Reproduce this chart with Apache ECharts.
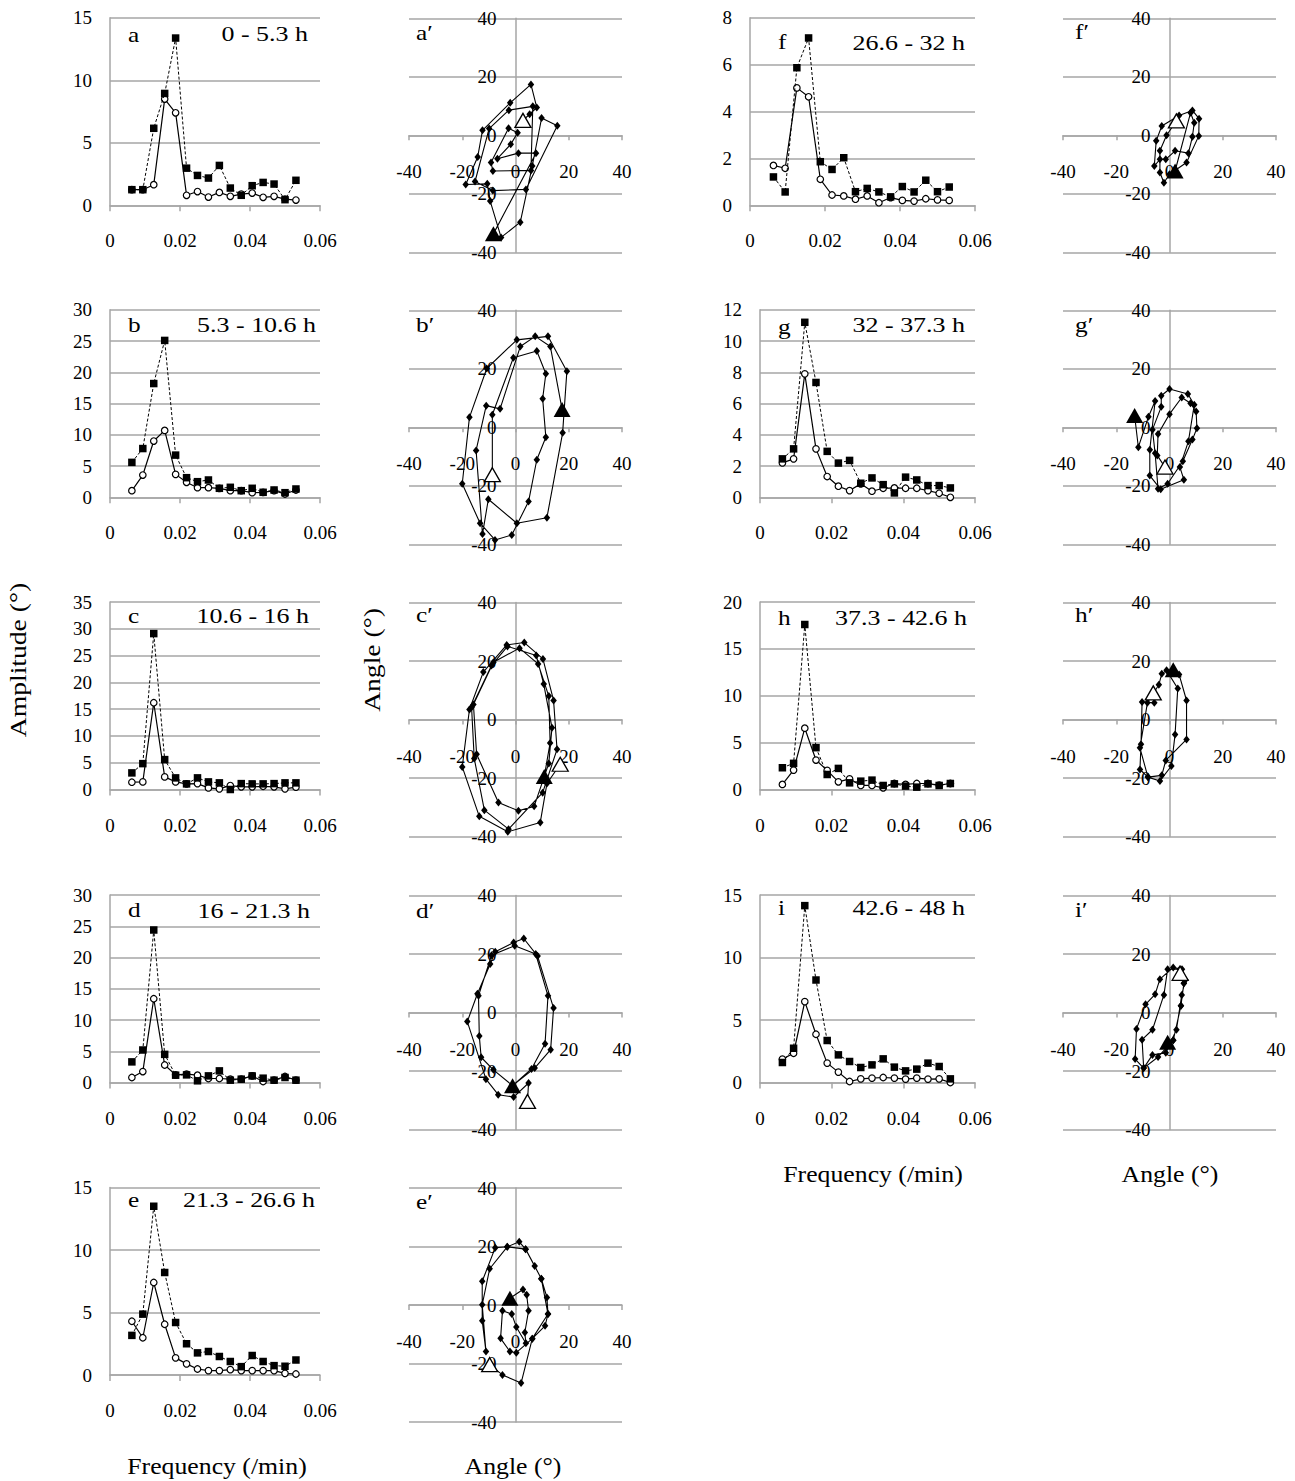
<!DOCTYPE html>
<html>
<head>
<meta charset="utf-8">
<script src="https://cdn.jsdelivr.net/npm/echarts@6/dist/echarts.min.js"></script>
<style>
  html, body { margin: 0; padding: 0; background: #fff; }
  #chart { width: 1295px; height: 1481px; }
</style>
</head>
<body>
<div id="chart"></div>
<script>
// frequencies (/min) shared by all spectra
var freq = [0.00625, 0.009375, 0.0125, 0.015625, 0.01875, 0.021875, 0.025, 0.028125,
            0.03125, 0.034375, 0.0375, 0.040625, 0.04375, 0.046875, 0.05, 0.053125];

// amplitude spectra: sq = filled squares (dashed), ci = open circles (solid)
var sqA = [1.25, 1.25, 6.16, 8.95, 13.38, 2.97, 2.39, 2.18, 3.19, 1.38, 0.8, 1.57, 1.83, 1.7, 0.45, 2.0];
var ciA = [1.25, 1.25, 1.65, 8.5, 7.4, 0.8, 1.1, 0.66, 1.03, 0.72, 0.9, 0.98, 0.64, 0.72, 0.5, 0.42];
var sqB = [5.59, 7.8, 18.2, 25.1, 6.75, 3.14, 2.5, 2.77, 1.44, 1.6, 1.06, 1.44, 0.8, 1.17, 0.74, 1.33];
var ciB = [1.06, 3.56, 9.0, 10.7, 3.67, 2.4, 1.54, 1.54, 1.44, 1.06, 1.06, 0.74, 0.8, 1.06, 0.53, 1.17];
var sqC = [3.1, 4.83, 29.1, 5.58, 2.17, 1.05, 2.17, 1.42, 1.24, 0, 1.1, 1.05, 1.05, 1.1, 1.24, 1.24];
var ciC = [1.36, 1.42, 16.2, 2.35, 1.42, 1.05, 1.1, 0.3, 0.12, 0.74, 0.5, 0.5, 0.6, 0.5, 0.12, 0.43];
var sqD = [3.3, 5.2, 24.4, 4.5, 1.17, 1.22, 0.27, 1.06, 1.86, 0.37, 0.53, 1.06, 0.69, 0.37, 0.8, 0.37];
var ciD = [0.8, 1.75, 13.4, 2.8, 1.22, 1.33, 1.17, 0.64, 0.64, 0.53, 0.53, 1.06, 0.16, 0.37, 0.96, 0.37];
var sqE = [3.17, 4.87, 13.5, 8.2, 4.2, 2.5, 1.77, 1.88, 1.48, 1.08, 0.67, 1.56, 1.08, 0.75, 0.7, 1.2];
var ciE = [4.3, 2.98, 7.4, 4.06, 1.37, 0.89, 0.48, 0.35, 0.35, 0.43, 0.35, 0.35, 0.35, 0.35, 0.13, 0.08];
var sqF = [1.21, 0.57, 5.87, 7.14, 1.86, 1.53, 2.03, 0.58, 0.72, 0.57, 0.36, 0.8, 0.57, 1.07, 0.58, 0.78];
var ciF = [1.7, 1.58, 5.01, 4.63, 1.11, 0.44, 0.4, 0.26, 0.4, 0.11, 0.33, 0.21, 0.18, 0.28, 0.23, 0.21];
var sqG = [2.46, 3.1, 11.2, 7.35, 2.94, 2.19, 2.36, 0.9, 1.24, 0.81, 0.28, 1.29, 1.11, 0.75, 0.75, 0.6];
var ciG = [2.2, 2.46, 7.9, 3.1, 1.33, 0.71, 0.43, 0.86, 0.39, 0.58, 0.6, 0.58, 0.58, 0.43, 0.26, 0.0];
var sqH = [2.32, 2.79, 17.6, 4.46, 1.6, 2.25, 0.71, 0.89, 1.0, 0.43, 0.6, 0.36, 0.25, 0.6, 0.43, 0.64];
var ciH = [0.54, 2.07, 6.54, 3.14, 2.04, 0.82, 1.14, 0.43, 0.43, 0.18, 0.64, 0.54, 0.64, 0.64, 0.46, 0.64];
var sqI = [1.6, 2.74, 14.15, 8.2, 3.36, 2.21, 1.68, 1.2, 1.41, 1.89, 1.23, 0.93, 1.07, 1.55, 1.28, 0.29];
var ciI = [1.87, 2.34, 6.47, 3.86, 1.55, 0.83, 0.08, 0.29, 0.35, 0.4, 0.35, 0.27, 0.35, 0.27, 0.29, 0.0];

// angle trajectories [x, y] in degrees; open triangle = start, filled triangle = end
var openA = [2.8, 5.1], fillA = [-8.3, -33.7];
var pathA = [[5.3, 7.2], [8, 9.5], [5.8, 17.4], [-2, 11.1], [-12.4, 1.7], [-14.2, -7.4], [-18.7, -16.8],
  [-10.6, -16.6], [-9.5, -22.5], [-5.4, -34.9], [1.8, -29.7], [6.3, -10.5], [9.8, 5.9], [15.7, 3.3],
  [3.9, -18.5], [-8.5, -18.9], [-15.2, -15.8], [-9.9, 2.3], [-2.5, 8.6], [6.5, 9.9], [5.8, -12],
  [-8.5, -12.2], [-9.2, -9.3], [-2.6, 2.4], [0.8, 0.9], [-1.8, -3.1], [-6.8, -8], [1.1, -6.1], [7.7, -6.1]];

var openB = [-8.7, -16.2], fillB = [17.5, 6.1];
var pathB = [[-8.7, 4.3], [-0.8, 23.8], [8, 26.1], [11.4, 18.3], [10.2, 9.8], [11.4, -3.4], [8, -11.1],
  [4.9, -25.4], [-1.4, -36.8], [-7.7, -38.5], [-13.3, -32.8], [-20, -19.3], [-17.3, 3.4], [-10.8, 20.1],
  [0.5, 29.9], [12.2, 31.1], [19.3, 19.2], [17.7, -1.9], [11.8, -30.9], [0.5, -32.8], [-10.2, -24.6],
  [-12.4, -36.5], [-14.8, -7.9], [-11, 7.4], [-5.8, 6.3], [1.8, 27.6], [7.4, 31.1], [13.1, 27.6]];

var openC = [16.8, -15.3], fillC = [10.8, -19.5];
var pathC = [[11.8, -21.9], [9.3, -35.2], [-2.9, -38.4], [-13.6, -33.1], [-20, -16.2], [-17.3, 3.4],
  [-12.1, 16.2], [-3.3, 25.5], [3.3, 26.3], [10.3, 20.7], [14.3, 6.5], [15.6, -10.2], [10.2, -25],
  [-2.6, -37.5], [-11.7, -31], [-15.5, -13.3], [-16.5, 4.2], [-9, 18.5], [-3, 25], [7.8, 21.9],
  [10.6, 12.1], [13.7, -2.8], [12.5, -15], [7, -29.7], [1.1, -31.2], [-6.4, -28.4], [-14.6, -11.9],
  [-15.8, 5.1], [-8.3, 19.6], [1.5, 24.4], [8.5, 19], [12.5, 8], [13, -8]];

var openD = [4.5, -30.4], fillD = [-1.1, -25];
var pathD = [[4.9, -24.1], [-0.7, -28.9], [-6.5, -28.1], [-11.1, -22.8], [-18.1, -3.1], [-14.3, 6.4],
  [-9.5, 16.6], [-7.6, 20.8], [-0.7, 23.9], [3.1, 25.3], [8.3, 19.3], [14.3, 1.5], [13.2, -12.7],
  [7.2, -19], [-1.1, -25], [-8.3, -19.6], [-12.9, -15.3], [-13.6, -8], [-13.9, 5.7], [-9, 19.6],
  [-0.3, 22.8], [7.6, 20], [12.2, 5.7], [11.1, -10.7], [6, -19.3]];

var openE = [-9.7, -20.4], fillE = [-2.1, 2.3];
var pathE = [[-4.9, -23.9], [2.1, -26.7], [6.3, -11.5], [11.1, -7.1], [12.2, -3.1], [11.8, 2.6], [9.7, 9],
  [7.2, 13.3], [3.8, 19.1], [1.4, 21.6], [-3.1, 19.9], [-9.7, 12.4], [-12.5, 0.1], [-11.1, -15.9],
  [-12.5, -5.4], [-12.5, 8.1], [-7.6, 19.6], [-3.1, 19.9], [3.8, 19.1], [9.7, 9], [12.2, -3.1],
  [6.3, -11.5], [0.3, -16.3], [-2.1, -15.9], [-5.6, -11.4], [-4.9, -2], [-1.4, -3.1], [0.3, -7.5],
  [3.9, -13.1], [3.5, -9.4], [4.9, -2], [4.2, 3.5], [2.8, 5.3]];

var openF = [2.6, 4.9], fillF = [2.1, -12.2];
var pathF = [[-1.1, 0], [-3.6, -5.3], [-3.6, -12.7], [-2.1, -16.2], [0, -13.3], [6.4, -9.3], [11, -0.2],
  [11.1, 5.7], [8.6, 8.5], [3.6, 6.8], [-2.9, 3.2], [-5, -1.9], [-5.7, -10.5], [-3.6, -8.2], [-1.4, -8.2],
  [2.1, -5.3], [7.1, -6.1], [8.6, -0.5], [9.3, 4.3], [7.9, 7.7]];

var openG = [-1.7, -13.6], fillG = [-13.1, 4];
var pathG = [[-4.6, -9.6], [-4.3, -2.3], [0, 4.5], [4.6, 10.2], [7.9, 8.2], [10, 5.4], [10.3, -0.3],
  [8.6, -4.2], [5, -11.6], [-0.7, -19.3], [-4.3, -21], [-5.4, -8.9], [-6.4, -0.8], [-3.1, 7], [-3.1, 10.8],
  [0, 13.1], [6.9, 11.4], [9.3, 7.7], [7.1, -4.8], [3.9, -13.6], [5.4, -17.9], [-3.3, -21.2],
  [-7.4, -16.5], [-7.4, -7.7], [-5.4, 9], [-7.9, 3.6], [-11.7, -6.8]];

var openH = [-6.1, 9.1], fillH = [1.4, 17];
var pathH = [[-5.7, 5.7], [-10.3, 6], [-10.7, -8.5], [-11.1, -17.1], [-8.1, -19.7], [-3.6, -21], [0.7, -15.9],
  [2.1, -5.1], [3.1, 10.6], [-1.1, 16.8], [-2.9, 15.6], [-4, 11.9], [-8.3, 5.7], [-11.1, -9.7], [-8.1, -19.7],
  [-2.9, -19.1], [-1.4, -14], [6.4, -6.8], [6.4, 6.5], [3.6, 15.4]];

var openI = [4, 13.4], fillI = [-0.7, -10.2];
var pathI = [[5.4, 10], [4.3, 2.3], [1.4, -9.5], [-4.3, -15.2], [-9.7, -19], [-12.9, -15.9], [-12.4, -5.6],
  [-9, 2.8], [-5.4, 6.2], [-3.6, 11.4], [1.4, 15.4], [4.7, 14.8], [6, 11.2], [4.6, 6], [2.6, -5.9],
  [-1.4, -13.8], [-6.4, -14.5], [-9.7, -19], [-10.3, -9.3], [-6.4, -5.9], [-2.1, 6], [-0.7, 14.8],
  [3.9, 14.8], [5.4, 10], [4.3, 2.3], [1.4, -9.5]];

// panel labels and axis ticks
var letters = ['a', 'b', 'c', 'd', 'e', 'f', 'g', 'h', 'i'];
var ranges = ['0 - 5.3 h', '5.3 - 10.6 h', '10.6 - 16 h', '16 - 21.3 h', '21.3 - 26.6 h',
              '26.6 - 32 h', '32 - 37.3 h', '37.3 - 42.6 h', '42.6 - 48 h'];
var ampMax = [15, 30, 35, 30, 15, 8, 12, 20, 15];
var ampStep = [5, 5, 5, 5, 5, 2, 2, 5, 5];
var angleTicks = [-40, 40, 20];

var sqAll = [sqA, sqB, sqC, sqD, sqE, sqF, sqG, sqH, sqI];
var ciAll = [ciA, ciB, ciC, ciD, ciE, ciF, ciG, ciH, ciI];
var paths = [pathA, pathB, pathC, pathD, pathE, pathF, pathG, pathH, pathI];
var opens = [openA, openB, openC, openD, openE, openF, openG, openH, openI];
var fills = [fillA, fillB, fillC, fillD, fillE, fillF, fillG, fillH, fillI];

function buildOption() {
  var serif = '"Liberation Serif", "Times New Roman", serif';
  var grey = '#a6a6a6';
  var rowTop = [17.8, 309.8, 602, 895, 1187.5];
  var letterY = [35, 325, 616, 910, 1200, 42, 327, 618, 908];
  var rangeX = [308, 316, 309, 310, 315, 965, 965, 967, 965];
  var rangeY = [34, 325, 616, 911, 1200, 43, 325, 618, 908];
  var primeY = [33, 325, 615, 911, 1202, 32, 325, 615, 910];
  var aW = 213, aH = 234;

  var grids = [], xAxes = [], yAxes = [], series = [], texts = [];

  // text of the figure is set wide (stretched) in the original, hence scaleX
  function label(text, x, y, size, align, rot, sx) {
    return {
      type: 'text', x: x, y: y, rotation: rot || 0, scaleX: sx || 1, silent: true,
      style: { text: text, fill: '#000', font: size + 'px ' + serif,
               textAlign: align || 'center', textVerticalAlign: 'middle' }
    };
  }
  function tickFont(extra) {
    var o = { color: '#000', fontFamily: serif, fontSize: 19 };
    for (var k in extra) o[k] = extra[k];
    return o;
  }
  function greyLine() { return { color: grey, width: 1.5 }; }

  for (var p = 0; p < 9; p++) {
    var col = p < 5 ? 0 : 1;
    var row = p < 5 ? p : p - 5;
    var rTop = rowTop[row];

    // spectrum panel
    var sLeft = col === 0 ? 110 : (p === 5 ? 750 : 760);
    var sWidth = col === 0 ? 210 : (p === 5 ? 225 : 215);
    var gi = grids.length;
    grids.push({ left: sLeft, top: rTop, width: sWidth, height: 187.5 });
    xAxes.push({
      type: 'value', gridIndex: gi, min: 0, max: 0.06, interval: 0.02, position: 'bottom',
      axisLine: { onZero: false, lineStyle: greyLine() },
      axisTick: { show: true, length: 6, lineStyle: greyLine() },
      splitLine: { show: false },
      axisLabel: tickFont({ margin: 26, formatter: function (v) { return v === 0 ? '0' : v.toFixed(2); } })
    });
    yAxes.push({
      type: 'value', gridIndex: gi, min: 0, max: ampMax[p], interval: ampStep[p], position: 'left',
      axisLine: { show: true, onZero: false, lineStyle: greyLine() },
      axisTick: { show: false },
      splitLine: { show: true, lineStyle: greyLine() },
      axisLabel: tickFont({ margin: 18 })
    });
    series.push({
      type: 'line', xAxisIndex: gi, yAxisIndex: gi, silent: true, z: 3,
      data: freq.map(function (f, k) { return [f, ciAll[p][k]]; }),
      symbol: 'circle', symbolSize: 6.5, showAllSymbol: true,
      itemStyle: { color: '#fff', borderColor: '#000', borderWidth: 1.2, opacity: 1 },
      lineStyle: { color: '#000', width: 1.2, type: 'solid' }
    });
    series.push({
      type: 'line', xAxisIndex: gi, yAxisIndex: gi, silent: true, z: 4,
      data: freq.map(function (f, k) { return [f, sqAll[p][k]]; }),
      symbol: 'rect', symbolSize: 7.5, showAllSymbol: true,
      itemStyle: { color: '#000', borderWidth: 0, opacity: 1 },
      lineStyle: { color: '#000', width: 1, type: [3, 2] }
    });

    texts.push(label(letters[p], col === 0 ? 128 : 778, letterY[p], 22, 'left', 0, 1.15));
    texts.push(label(ranges[p], rangeX[p], rangeY[p], 22, 'right', 0, 1.18));

    // angle panel: axes crossing at the centre via negative offsets
    var aLeft = col === 0 ? 409 : 1063;
    var ai = grids.length;
    grids.push({ left: aLeft, top: rTop + 0.5, width: aW, height: aH });
    xAxes.push({
      type: 'value', gridIndex: ai, min: angleTicks[0], max: angleTicks[1], interval: angleTicks[2],
      position: 'bottom', offset: -aH / 2,
      axisLine: { onZero: false, lineStyle: greyLine() },
      axisTick: { show: true, length: 5, lineStyle: greyLine() },
      splitLine: { show: false },
      axisLabel: tickFont({ margin: 27, showMinLabel: true, showMaxLabel: true })
    });
    yAxes.push({
      type: 'value', gridIndex: ai, min: angleTicks[0], max: angleTicks[1], interval: angleTicks[2],
      position: 'left', offset: -aW / 2,
      axisLine: { show: true, onZero: false, lineStyle: greyLine() },
      axisTick: { show: false },
      splitLine: { show: true, lineStyle: greyLine() },
      axisLabel: tickFont({ margin: 19, showMinLabel: true, showMaxLabel: true })
    });
    var traj = [{ value: opens[p].slice(), symbol: 'none' }];
    paths[p].forEach(function (d) { traj.push({ value: d.slice() }); });
    traj.push({ value: fills[p].slice(), symbol: 'none' });
    series.push({
      type: 'line', xAxisIndex: ai, yAxisIndex: ai, silent: true, z: 3,
      data: traj, symbol: 'diamond', symbolSize: [6.5, 8], showAllSymbol: true,
      itemStyle: { color: '#000', opacity: 1 }, lineStyle: { color: '#000', width: 1.1 }
    });
    series.push({
      type: 'scatter', xAxisIndex: ai, yAxisIndex: ai, silent: true, z: 5,
      data: [opens[p].slice()], symbol: 'triangle', symbolSize: [16, 14],
      itemStyle: { color: '#fff', borderColor: '#000', borderWidth: 1.3, opacity: 1 }
    });
    series.push({
      type: 'scatter', xAxisIndex: ai, yAxisIndex: ai, silent: true, z: 6,
      data: [fills[p].slice()], symbol: 'triangle', symbolSize: [17, 15],
      itemStyle: { color: '#000', opacity: 1 }
    });
    texts.push(label(letters[p] + '\u2032', col === 0 ? 416 : 1075, primeY[p], 22, 'left', 0, 1.15));
  }

  // axis titles
  texts.push(label('Amplitude (\u00b0)', 18, 660, 23, 'center', Math.PI / 2, 1.2));
  texts.push(label('Angle (\u00b0)', 372, 660, 23, 'center', Math.PI / 2, 1.2));
  texts.push(label('Frequency (/min)', 217, 1466, 23, 'center', 0, 1.12));
  texts.push(label('Angle (\u00b0)', 513, 1466, 23, 'center', 0, 1.12));
  texts.push(label('Frequency (/min)', 873, 1174, 23, 'center', 0, 1.12));
  texts.push(label('Angle (\u00b0)', 1170, 1174, 23, 'center', 0, 1.12));

  return {
    animation: false,
    backgroundColor: '#fff',
    grid: grids,
    xAxis: xAxes,
    yAxis: yAxes,
    series: series,
    graphic: { elements: texts }
  };
}

var myChart = echarts.init(document.getElementById('chart'), null, { renderer: 'svg' });
myChart.setOption(buildOption());
</script>
</body>
</html>
